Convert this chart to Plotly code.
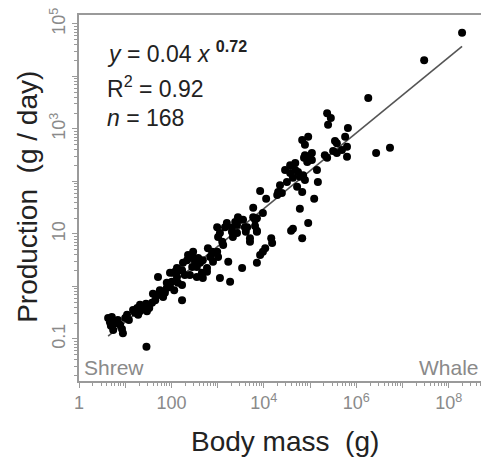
import plotly.graph_objects as go

# log10 body mass (g) and log10 production (g/day)
log_mass = [0.63,0.67,0.71,0.69,0.74,0.78,0.89,0.93,0.95,1.00,1.04,1.08,1.17,1.21,1.26,1.28,1.32,1.36,1.41,1.45,
            1.47,1.52,1.46,1.58,1.60,1.65,1.71,1.71,1.77,1.82,1.86,1.90,1.90,1.97,2.01,1.97,2.08,2.12,2.19,2.23,
            2.23,2.06,2.14,2.29,2.34,2.45,2.51,2.55,2.45,2.62,2.68,2.77,2.66,2.55,2.40,2.25,2.23,2.12,2.03,2.68,
            2.77,2.36,2.47,2.58,2.79,2.88,2.94,2.84,3.01,2.99,3.12,3.10,2.99,3.05,3.01,3.16,3.20,3.31,3.33,3.42,
            3.38,3.42,3.44,3.48,3.59,3.23,3.05,3.27,3.53,3.70,3.85,3.85,3.92,3.98,4.18,4.03,3.55,3.64,3.61,3.77,
            3.77,3.81,3.85,3.98,3.81,3.85,3.92,4.05,4.29,4.31,4.39,4.16,4.63,4.59,4.78,4.96,4.83,5.09,4.46,4.57,
            4.68,4.68,4.74,4.63,4.78,4.85,4.72,4.83,4.89,4.50,4.35,4.83,4.96,4.89,4.89,5.04,5.00,4.94,4.87,5.15,
            5.17,5.32,5.37,5.50,5.58,5.69,5.80,5.76,5.58,5.80,5.82,5.37,5.45,5.39,6.26,6.43,6.73,7.47,8.29,5.54,
            1.32,1.75,2.90,3.31,4.57,5.04,0.84,3.70]
log_prod = [-0.60,-0.68,-0.58,-0.75,-0.83,-0.70,-0.73,-0.81,-0.89,-0.60,-0.54,-0.64,-0.45,-0.50,-0.41,-0.54,-0.47,-0.37,-0.43,-0.33,
            -0.47,-0.41,-1.15,-0.31,-0.14,-0.26,-0.16,0.18,-0.10,-0.20,-0.12,-0.03,0.07,-0.01,0.09,0.26,0.28,0.18,0.31,0.03,
            -0.26,-0.07,0.07,0.22,0.50,0.56,0.47,0.37,0.37,0.45,0.50,0.35,0.26,0.18,0.22,0.45,0.31,0.35,0.26,0.16,
            0.28,0.60,0.66,0.54,0.73,0.66,0.64,0.56,0.56,0.66,0.79,0.85,1.13,1.02,0.94,1.13,1.21,1.04,0.94,1.02,
            1.23,1.17,1.32,1.27,1.13,0.47,0.16,0.09,0.35,0.85,1.04,0.45,0.60,0.66,0.83,0.73,1.27,1.13,1.04,1.50,
            1.32,1.27,1.30,1.40,1.15,1.06,1.82,1.67,1.74,1.80,1.78,0.92,1.10,1.06,1.48,1.21,0.92,1.67,2.22,2.16,
            2.35,2.22,2.18,2.07,2.09,2.12,1.90,1.80,2.03,1.99,1.93,2.79,2.85,2.70,2.50,2.54,2.45,2.37,2.45,2.22,
            1.99,2.50,2.45,2.58,2.54,2.60,2.47,2.85,2.73,2.66,3.02,3.30,3.21,3.08,3.59,2.54,2.64,4.31,4.83,2.77,
            -0.35,-0.07,0.47,1.12,2.31,2.41,-0.64,0.92]

body_mass = [10 ** v for v in log_mass]
production = [10 ** v for v in log_prod]

# fitted allometric relation y = a * x^b
fit_a = 0.04
fit_b = 0.72
fit_mass = [min(body_mass), max(body_mass)]
fit_prod = [fit_a * m ** fit_b for m in fit_mass]

x_tickvals = [10 ** k for k in range(0, 9)]
x_ticktext = ["1", "", "100", "", "10<sup>4</sup>", "", "10<sup>6</sup>", "", "10<sup>8</sup>"]
y_tickvals = [10 ** k for k in range(-1, 6)]
y_ticktext = ["0.1", "", "10", "", "10<sup>3</sup>", "", "10<sup>5</sup>"]
x_minor = [m * 10 ** k for k in range(0, 9) for m in range(2, 10)]
y_minor = [m * 10 ** k for k in range(-2, 6) for m in range(2, 10)]

FONT = "Liberation Sans, Arial, sans-serif"
AXC = "#9a9a9a"

fig = go.Figure()
fig.add_trace(go.Scatter(x=fit_mass, y=fit_prod, mode="lines",
                         line=dict(color="#555555", width=1.6), hoverinfo="skip"))
fig.add_trace(go.Scatter(x=body_mass, y=production, mode="markers",
                         marker=dict(color="black", size=8, line=dict(width=0))))

fig.update_layout(
    width=481, height=464,
    margin=dict(l=79, r=0, t=15, b=83),
    paper_bgcolor="white", plot_bgcolor="white",
    showlegend=False,
    font=dict(family=FONT),
    xaxis=dict(type="log", range=[0, 8.7], showgrid=False, zeroline=False,
               showline=True, linecolor=AXC, linewidth=1.5, mirror=True,
               ticks="outside", ticklen=5, tickcolor=AXC, tickwidth=1.2,
               tickvals=x_tickvals, ticktext=x_ticktext,
               tickfont=dict(size=18, color="#8a8a8a"),
               minor=dict(tickvals=x_minor, ticks="outside", ticklen=3, tickcolor=AXC, tickwidth=1)),
    yaxis=dict(type="log", range=[-1.8, 5.17], showgrid=False, zeroline=False,
               showline=True, linecolor=AXC, linewidth=1.5,
               ticks="outside", ticklen=5, tickcolor=AXC, tickwidth=1.2,
               tickvals=y_tickvals, ticktext=y_ticktext, tickangle=-90,
               tickfont=dict(size=18, color="#8a8a8a"),
               minor=dict(tickvals=y_minor, ticks="outside", ticklen=3, tickcolor=AXC, tickwidth=1)),
)

title_font = dict(size=28, color="#222222", family=FONT)
fig.add_annotation(xref="paper", yref="paper", x=0.512, y=-0.164, xanchor="center", yanchor="middle",
                   showarrow=False, font=title_font, text="Body mass  (g)")
fig.add_annotation(xref="paper", yref="paper", x=-0.127, y=0.503, xanchor="center", yanchor="middle",
                   showarrow=False, font=title_font, text="Production  (g / day)", textangle=-90)

ann_font = dict(size=23, color="#222222", family=FONT)
fig.add_annotation(xref="paper", yref="paper", x=0.065, y=0.899, xanchor="left", yanchor="middle",
                   showarrow=False, font=ann_font,
                   text="<i>y</i> = 0.04 <i>x</i> <sup><b>0.72</b></sup>")
fig.add_annotation(xref="paper", yref="paper", x=0.065, y=0.803, xanchor="left", yanchor="middle",
                   showarrow=False, font=ann_font, text="R<sup>2</sup> = 0.92")
fig.add_annotation(xref="paper", yref="paper", x=0.065, y=0.719, xanchor="left", yanchor="middle",
                   showarrow=False, font=ann_font, text="<i>n</i> = 168")
fig.add_annotation(xref="paper", yref="paper", x=0.008, y=0.038, xanchor="left", yanchor="middle",
                   showarrow=False, font=dict(size=21, color="#8a8a8a", family=FONT), text="Shrew")
fig.add_annotation(xref="paper", yref="paper", x=1.0, y=0.038, xanchor="right", yanchor="middle",
                   showarrow=False, font=dict(size=21, color="#8a8a8a", family=FONT), text="Whale")

fig.write_html("out.html")
